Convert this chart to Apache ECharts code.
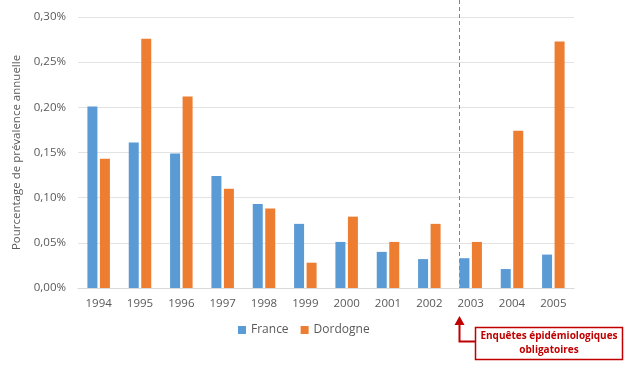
<!DOCTYPE html>
<html><head><meta charset="utf-8">
<script src="https://cdn.jsdelivr.net/npm/echarts@6/dist/echarts.min.js"></script>
<style>html,body{margin:0;padding:0;background:#fff}#c{width:630px;height:371px}</style>
</head><body><div id="c"></div>
<script>
var years = ['1994','1995','1996','1997','1998','1999','2000','2001','2002','2003','2004','2005'];
var france = [0.201,0.161,0.149,0.124,0.093,0.071,0.051,0.040,0.032,0.033,0.021,0.037];
var dordogne = [0.143,0.276,0.212,0.110,0.088,0.028,0.079,0.051,0.071,0.051,0.174,0.273];
var yTicks = [0,0.05,0.10,0.15,0.20,0.25,0.30];
var seriesNames = ['France','Dordogne'];
var annotationText = ['Enquêtes épidémiologiques','obligatoires'];

var FONT = 'Open Sans';
var chart = echarts.init(document.getElementById('c'), null, {renderer:'canvas'});
chart.setOption({
  animation:false,
  textStyle:{fontFamily:FONT},
  grid:{left:78, right:56, top:17, bottom:83},
  legend:{
    data:seriesNames, left:233, top:319, itemWidth:8, itemHeight:8, itemGap:12,
    icon:'rect',
    textStyle:{fontFamily:FONT, fontSize:12, color:'#595959'}
  },
  xAxis:{
    type:'category', data:years,
    axisLine:{lineStyle:{color:'#d9d9d9'}},
    axisTick:{show:false},
    axisLabel:{color:'#595959', fontSize:11.5, fontFamily:FONT, margin:10}
  },
  yAxis:{
    type:'value', min:0, max:0.30, interval:0.05,
    name:'Pourcentage de prévalence annuelle', nameLocation:'middle', nameGap:54,
    nameTextStyle:{color:'#595959', fontSize:11.5, fontFamily:FONT},
    axisLine:{show:false}, axisTick:{show:false},
    splitLine:{lineStyle:{color:'#e3e3e3'}},
    axisLabel:{color:'#595959', fontSize:11.5, fontFamily:FONT, margin:12,
      formatter:function(v){return v.toFixed(2).replace('.',',')+'%';}}
  },
  series:[
    {name:seriesNames[0], type:'bar', data:france, barWidth:10, barGap:'25%',
     itemStyle:{color:'#5B9BD5'}},
    {name:seriesNames[1], type:'bar', data:dordogne, barWidth:10,
     itemStyle:{color:'#ED7D31'}}
  ]
});

var cx = chart.convertToPixel({xAxisIndex:0}, '2003');
var lineX = Math.round(cx - 12) + 0.5;
var yBot = chart.convertToPixel({yAxisIndex:0}, 0);
var dark = '#C00000';
chart.setOption({
  graphic:[
    {type:'line', shape:{x1:lineX, y1:0, x2:lineX, y2:yBot},
     style:{stroke:'#E8585E', lineWidth:1, lineDash:[4,3]}},
    {type:'polyline', shape:{points:[[lineX,322],[lineX,341.5],[475,341.5]]},
     style:{stroke:dark, lineWidth:2, fill:null}},
    {type:'polygon', shape:{points:[[lineX-5,325],[lineX,316],[lineX+5,325]]},
     style:{fill:dark}},
    {type:'rect', shape:{x:475.5, y:327.5, width:147, height:32},
     style:{fill:'#fff', stroke:dark, lineWidth:1.5}},
    {type:'text', x:549, y:343.5,
     style:{text:annotationText.join('\n'), fill:dark, font:'bold 10px "Open Sans"',
       align:'center', verticalAlign:'middle', lineHeight:14}}
  ]
});
</script></body></html>
